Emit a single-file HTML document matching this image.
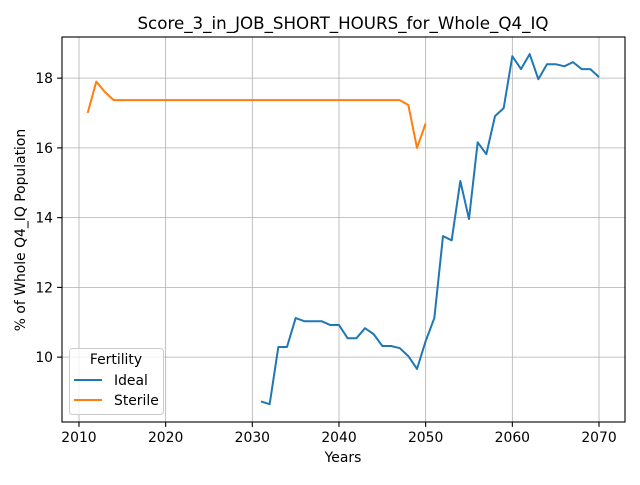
<!DOCTYPE html>
<html><head><meta charset="utf-8"><style>body{margin:0;background:#fff}svg{font-family:"DejaVu Sans","Liberation Sans",sans-serif}</style></head>
<body>
<svg id="chart" width="640" height="480"></svg>
<script>
const idealYears=[2031,2032,2033,2034,2035,2036,2037,2038,2039,2040,2041,2042,2043,2044,2045,2046,2047,2048,2049,2050,2051,2052,2053,2054,2055,2056,2057,2058,2059,2060,2061,2062,2063,2064,2065,2066,2067,2068,2069,2070];
const idealValues=[8.73,8.65,10.29,10.29,11.12,11.03,11.03,11.03,10.92,10.92,10.54,10.54,10.83,10.66,10.32,10.32,10.26,10.03,9.66,10.46,11.12,13.47,13.35,15.05,13.96,16.16,15.82,16.91,17.14,18.63,18.26,18.69,17.97,18.40,18.40,18.34,18.46,18.26,18.26,18.03];
const sterileYears=[2011,2012,2013,2014,2015,2016,2017,2018,2019,2020,2021,2022,2023,2024,2025,2026,2027,2028,2029,2030,2031,2032,2033,2034,2035,2036,2037,2038,2039,2040,2041,2042,2043,2044,2045,2046,2047,2048,2049,2050];
const sterileValues=[17.0,17.9,17.6,17.37,17.37,17.37,17.37,17.37,17.37,17.37,17.37,17.37,17.37,17.37,17.37,17.37,17.37,17.37,17.37,17.37,17.37,17.37,17.37,17.37,17.37,17.37,17.37,17.37,17.37,17.37,17.37,17.37,17.37,17.37,17.37,17.37,17.37,17.23,16.0,16.7];
const xTicks=[2010,2020,2030,2040,2050,2060,2070];
const yTicks=[10,12,14,16,18];
const L=62,R=625,T=37,B=422,xMin=2008.04,xMax=2073.0,yMin=8.14,yMax=19.18;
const X=v=>L+(v-xMin)/(xMax-xMin)*(R-L);
const Y=v=>B-(v-yMin)/(yMax-yMin)*(B-T);
const svg=document.getElementById('chart');const NS='http://www.w3.org/2000/svg';
function mk(t,a,p){const e=document.createElementNS(NS,t);for(const k in a)e.setAttribute(k,a[k]);(p||svg).appendChild(e);return e;}
xTicks.forEach(t=>{const x=X(t);
const g=mk('line',{x1:x,x2:x,y1:T,y2:B,stroke:'#b0b0b0','stroke-width':0.8});

mk('line',{x1:x,x2:x,y1:B,y2:B+4.9,stroke:'#000','stroke-width':1.1});
const tx=mk('text',{x:x,y:442,'text-anchor':'middle','font-size':13.9});tx.textContent=t;
});
yTicks.forEach(t=>{const y=Y(t);
const g=mk('line',{x1:L,x2:R,y1:y,y2:y,stroke:'#b0b0b0','stroke-width':0.8});

mk('line',{x1:L-4.9,x2:L,y1:y,y2:y,stroke:'#000','stroke-width':1.1});
const tx=mk('text',{x:L-9,y:y+5,'text-anchor':'end','font-size':13.9});tx.textContent=t;
});
function line(xs,ys,c,n){const p=mk('polyline',{points:xs.map((x,i)=>X(x)+','+Y(ys[i])).join(' '),fill:'none',stroke:c,'stroke-width':2,'stroke-linejoin':'round'});
}
line(sterileYears,sterileValues,'#ff7f0e','sterile-line');
line(idealYears,idealValues,'#1f77b4','ideal-line');
const fr=mk('rect',{x:L,y:T,width:R-L,height:B-T,fill:'none',stroke:'#000','stroke-width':1.1});

</script>
<svg width="640" height="480" style="position:absolute;left:0;top:0">
<text x="343" y="29" text-anchor="middle" font-size="16.7">Score_3_in_JOB_SHORT_HOURS_for_Whole_Q4_IQ</text>
<text x="343" y="462" text-anchor="middle" font-size="13.9">Years</text>
<text x="0" y="0" transform="translate(25,230) rotate(-90)" text-anchor="middle" font-size="13.9">% of Whole Q4_IQ Population</text>
<g>
<rect x="69.5" y="348.5" width="94" height="66" rx="3" fill="#fff" fill-opacity="0.8" stroke="#ccc" stroke-width="1"/>
<text x="116" y="364" text-anchor="middle" font-size="13.9">Fertility</text>
<line x1="74" x2="102" y1="380" y2="380" stroke="#1f77b4" stroke-width="2"/>
<text x="114" y="385" font-size="13.9">Ideal</text>
<line x1="74" x2="102" y1="400" y2="400" stroke="#ff7f0e" stroke-width="2"/>
<text x="114" y="405" font-size="13.9">Sterile</text>
</g>
</svg>
</body></html>
